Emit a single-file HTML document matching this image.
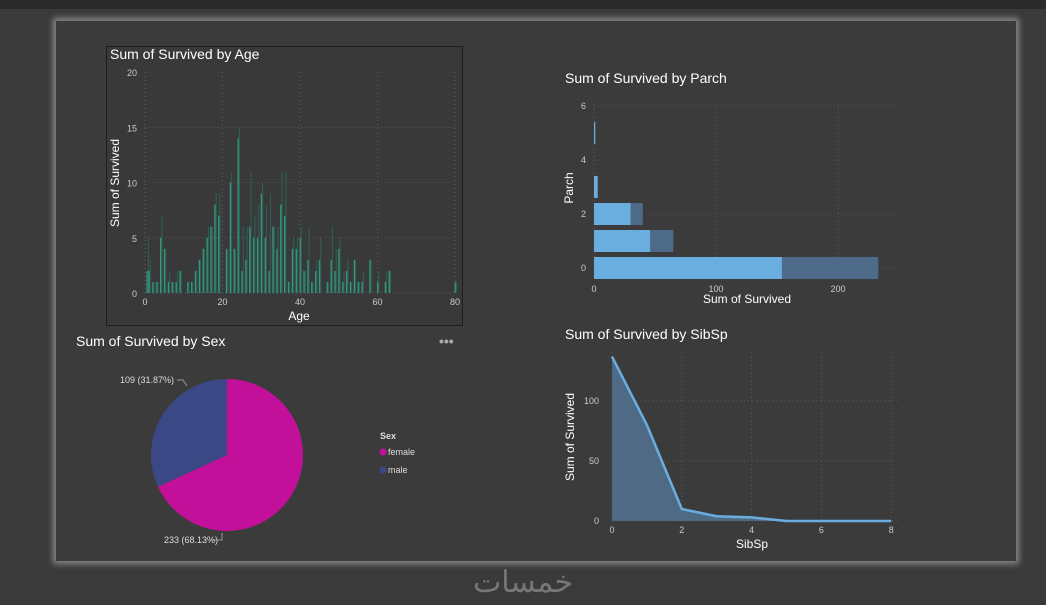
<!DOCTYPE html>
<html><head><meta charset="utf-8"><style>
body{margin:0;width:1046px;height:605px;background:#3a3a3a;overflow:hidden;font-family:"Liberation Sans",sans-serif;position:relative}
#top{position:absolute;left:0;top:0;width:1046px;height:9px;background:#2a2a2a}
#panel{position:absolute;left:56px;top:21px;width:960px;height:540px;background:#3b3b3b;box-shadow:0 0 6px 3px rgba(200,200,200,0.55)}
svg{position:absolute;left:0;top:0}
text{font-family:"Liberation Sans",sans-serif}
</style></head><body>
<div id="top"></div>
<div id="panel"></div>
<svg id="s" width="1046" height="605">
<rect x="106.5" y="46.5" width="356" height="279" fill="#393939" stroke="#1e1e1e"/>
<text x="110" y="59" fill="#fff" font-size="14">Sum of Survived by Age</text>
<text x="565" y="83" fill="#fff" font-size="14">Sum of Survived by Parch</text>
<text x="76" y="346" fill="#fff" font-size="14">Sum of Survived by Sex</text>
<text x="439" y="346" fill="#aaa" font-size="14" font-weight="bold">•••</text>
<text x="565" y="339" fill="#fff" font-size="14">Sum of Survived by SibSp</text>
<text x="523" y="592" fill="#777" font-size="30" text-anchor="middle" font-family="DejaVu Sans, sans-serif">خمسات</text>
<g id="g"></g>
</svg>
<script>
// Age chart data
const ageCats=[0.5,1,2,3,4,5,6,7,8,9,11,12,13,14,15,16,17,18,19,21,22,23,24,25,26,27,28,29,30,31,32,33,34,35,36,37,38,39,40,41,42,43,44,45,47,48,49,50,51,52,53,54,55,56,58,60,62,63,80];
const ageSurv=[2,2,1,1,5,4,1,1,1,2,1,1,2,3,4,5,6,8,7,4,10,4,14,2,3,6,5,5,9,5,2,6,4,8,7,1,4,4,5,2,3,1,2,3,1,3,2,4,1,2,1,3,1,1,3,1,1,2,1];
const ageFaint=[5,3,1,1,7,4,2,1,2,2,1,1,2,3,4,6,6,9,9,4,11,4,15,6,6,11,7,8,10,8,9,6,6,11,11,1,5,5,6,2,6,1,3,5,1,6,4,5,2,3,1,3,1,2,3,2,2,2,1];
const ageYTicks=[0,5,10,15,20];
const ageXTicks=[0,20,40,60,80];
// Parch data
const parchCats=[0,1,2,3,5];
const parchSurv=[154,46,30,3,1];
const parchTotal=[233,65,40,3,1];
const parchXTicks=[0,100,200];
const parchYTicks=[0,2,4,6];
// Sex data
const sexCats=["female","male"];
const sexVals=[233,109];
// SibSp data
const sibCats=[0,1,2,3,4,5,6,7,8];
const sibVals=[137,80,10,4,3,0,0,0,0];
const sibXTicks=[0,2,4,6,8];
const sibYTicks=[0,50,100];

const NS="http://www.w3.org/2000/svg",g=document.getElementById('g');
function el(t,a,txt){const e=document.createElementNS(NS,t);for(const k in a)e.setAttribute(k,a[k]);if(txt!==undefined)e.textContent=txt;g.appendChild(e);return e;}
const grid={stroke:"#5a5a5a","stroke-dasharray":"1,3","stroke-width":1};

// Age
const ax=v=>145+v*3.875, ay=v=>293-v*11.05;
ageYTicks.forEach(t=>{const l=el('line',Object.assign({x1:145,x2:455,y1:ay(t),y2:ay(t)},grid));
 const tx=el('text',{x:137,y:ay(t)+4,fill:"#ccc","font-size":9,"text-anchor":"end"},t);});
ageXTicks.forEach(t=>{const l=el('line',Object.assign({x1:ax(t),x2:ax(t),y1:72,y2:293},grid));
 const tx=el('text',{x:ax(t),y:305,fill:"#ccc","font-size":9,"text-anchor":"middle"},t);});
ageCats.forEach((a,i)=>{
 const f=el('rect',{x:ax(a)+0.9,y:ay(ageFaint[i]),width:1,height:ay(0)-ay(ageFaint[i]),fill:"#2c6358"});
 const b=el('rect',{x:ax(a)-0.5,y:ay(ageSurv[i]),width:1.3,height:ay(0)-ay(ageSurv[i]),fill:"#34977e"});});
let t1=el('text',{x:299,y:320,fill:"#fff","font-size":12,"text-anchor":"middle"},"Age");
t1=el('text',{x:0,y:0,fill:"#fff","font-size":12,"text-anchor":"middle",transform:"translate(119,183) rotate(-90)"},"Sum of Survived");

// Parch
const px=v=>594+v*1.22, py=v=>268-v*27;
parchXTicks.forEach(t=>{const l=el('line',Object.assign({x1:px(t),x2:px(t),y1:100,y2:280},grid));
 const tx=el('text',{x:px(t),y:292,fill:"#ccc","font-size":9,"text-anchor":"middle"},t);});
parchYTicks.forEach(t=>{const l=el('line',Object.assign({x1:594,x2:900,y1:py(t),y2:py(t)},grid));
 const tx=el('text',{x:586,y:py(t)+3,fill:"#ccc","font-size":9,"text-anchor":"end"},t);});
parchCats.forEach((c,i)=>{
 const d=el('rect',{x:px(0),y:py(c)-11,width:px(parchTotal[i])-px(0),height:22,fill:"#4d6a88"});
 const b=el('rect',{x:px(0),y:py(c)-11,width:px(parchSurv[i])-px(0),height:22,fill:"#6aaee0"});});
t1=el('text',{x:747,y:303,fill:"#fff","font-size":12,"text-anchor":"middle"},"Sum of Survived");
t1=el('text',{x:0,y:0,fill:"#fff","font-size":12,"text-anchor":"middle",transform:"translate(573,188) rotate(-90)"},"Parch");

// Pie
const cx=227,cy=455,r=76,tot=sexVals.reduce((a,b)=>a+b,0),cols=["#c2109a","#3b4886"];
let ang=0;
sexVals.forEach((v,i)=>{const a0=ang,a1=ang+v/tot*2*Math.PI;ang=a1;
 const p0=[cx+r*Math.sin(a0),cy-r*Math.cos(a0)],p1=[cx+r*Math.sin(a1),cy-r*Math.cos(a1)];
 const s=el('path',{d:`M${cx},${cy}L${p0[0]},${p0[1]}A${r},${r} 0 ${a1-a0>Math.PI?1:0} 1 ${p1[0]},${p1[1]}Z`,fill:cols[i]});});
const pct=v=>v+" ("+(v/tot*100).toFixed(2)+"%)";
t1=el('text',{x:218,y:543,fill:"#ddd","font-size":9,"text-anchor":"end"},pct(sexVals[0]));
t1=el('path',{d:"M209,540h13v-7",stroke:"#999",fill:"none"});
t1=el('text',{x:174,y:383,fill:"#ddd","font-size":9,"text-anchor":"end"},pct(sexVals[1]));
t1=el('path',{d:"M177,380h6l4,6",stroke:"#999",fill:"none"});
t1=el('text',{x:380,y:439,fill:"#ddd","font-size":9,"font-weight":"bold"},"Sex");
sexCats.forEach((c,i)=>{const y=452+i*18;
 const d=el('circle',{cx:383,cy:y,r:3.5,fill:cols[i]});
 const tx=el('text',{x:388,y:y+3,fill:"#ddd","font-size":9},c);});

// SibSp
const sx=v=>612+v*34.9, sy=v=>521-v*1.2;
sibXTicks.forEach(t=>{const l=el('line',Object.assign({x1:sx(t),x2:sx(t),y1:352,y2:521},grid));
 const tx=el('text',{x:sx(t),y:533,fill:"#ccc","font-size":9,"text-anchor":"middle"},t);});
sibYTicks.forEach(t=>{const l=el('line',Object.assign({x1:612,x2:900,y1:sy(t),y2:sy(t)},grid));
 const tx=el('text',{x:599,y:sy(t)+3,fill:"#ccc","font-size":9,"text-anchor":"end"},t);});
const pts=sibCats.map((c,i)=>sx(c)+","+sy(sibVals[i])).join(" ");
t1=el('polygon',{points:sx(sibCats[0])+","+sy(0)+" "+pts+" "+sx(sibCats[sibCats.length-1])+","+sy(0),fill:"#4f6a84"});
t1=el('polyline',{points:pts,fill:"none",stroke:"#6aaee0","stroke-width":2.5});
t1=el('text',{x:752,y:548,fill:"#fff","font-size":12,"text-anchor":"middle"},"SibSp");
t1=el('text',{x:0,y:0,fill:"#fff","font-size":12,"text-anchor":"middle",transform:"translate(574,437) rotate(-90)"},"Sum of Survived");
</script>
</body></html>
